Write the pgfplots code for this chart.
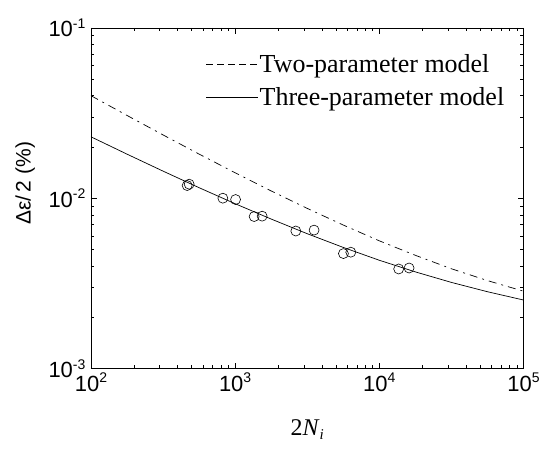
\documentclass[border=0pt]{standalone}
\usepackage{fontspec}
\setmainfont{Liberation Sans}
\newfontfamily\tnr{Liberation Serif}
\usepackage{pgfplots}
\pgfplotsset{compat=1.18}

% test points and the two fitted curves
\pgfplotstableread{
N      amp
465    0.01189
480    0.01211
822    0.01002
1007   0.00984
1355   0.00782
1539   0.00786
2635   0.00643
3527   0.00651
5636   0.00474
6339   0.00483
13620  0.00385
16070  0.00390
}\tests

\newcommand{\pw}[1]{10\raisebox{0.72ex}{\fontsize{14}{14}\selectfont #1}}

\begin{document}
\begin{tikzpicture}
\begin{axis}[
    scale only axis,
    width=433pt, height=341pt,
    xmode=log, ymode=log,
    xmin=100, xmax=100000,
    ymin=0.001, ymax=0.1,
    axis line style={line width=0.8pt},
    every tick/.style={black, line width=0.6pt},
    major tick length=6pt,
    minor tick length=3.5pt,
    xtick={100,1000,10000,100000},
    xticklabels={\pw{2},\pw{3},\pw{4},\pw{5}},
    ytick={0.001,0.01,0.1},
    yticklabels={\pw{-3},\pw{-2},\pw{-1}},
    tick label style={font=\fontsize{22}{22}\selectfont},
    xticklabel style={yshift=-1pt},
    yticklabel style={xshift=-2pt},
    xlabel={\tnr 2\textit{N}\raisebox{-0.35ex}{\fontsize{15}{15}\selectfont\textit{i}}},
    every axis x label/.style={at={(axis description cs:0.5,-0.179)}, anchor=center,
        font=\fontsize{24}{24}\selectfont},
    ylabel={Δε/\,2 (\%)},
    every axis y label/.style={at={(axis description cs:-0.152,0.544)}, anchor=center, rotate=90,
        font=\fontsize{21}{21}\selectfont},
    legend style={draw=none, fill=none, at={(rel axis cs:0.958,0.925)}, anchor=north east,
        font=\tnr\fontsize{26}{26}\selectfont, row sep=11pt, inner sep=0pt,
        nodes={inner sep=1pt}},
    legend cell align=left,
    legend image code/.code={\draw[#1] (0pt,0pt) -- (52pt,0pt);},
]
\addplot[black, line width=0.7pt, dash pattern=on 8pt off 5pt on 2pt off 5pt,
    legend image code/.code={\draw[black, line width=0.9pt, dash pattern=on 7pt off 4pt] (0pt,0pt) -- (52pt,0pt);}]
    coordinates {
(100,0.04007) (177.8,0.03068) (316.2,0.02357) (562.3,0.01819) (1000,0.01413)
(1778,0.01105) (3162,0.00873) (5623,0.00697) (10000,0.00563) (17783,0.00463)
(31623,0.00386) (56234,0.00329) (100000,0.00285)};
\addlegendentry{Two-parameter model}
\addplot[black, line width=0.7pt] coordinates {
(100,0.02298) (177.8,0.01818) (316.2,0.01445) (562.3,0.01155) (1000,0.00930)
(1778,0.00756) (3162,0.00620) (5623,0.00515) (10000,0.00433) (17783,0.00370)
(31623,0.00321) (56234,0.00283) (100000,0.00253)};
\addlegendentry{Three-parameter model}
\addplot[only marks, mark=o, mark size=5pt, black, mark options={line width=0.6pt}, forget plot]
    table[x=N, y=amp] {\tests};
\end{axis}
\path (current axis.south west) ++(-91pt,-93pt) coordinate (bl);
\path (current axis.north east) ++(19pt,28pt) coordinate (tr);
\path (bl) rectangle (tr);
\end{tikzpicture}
\end{document}
